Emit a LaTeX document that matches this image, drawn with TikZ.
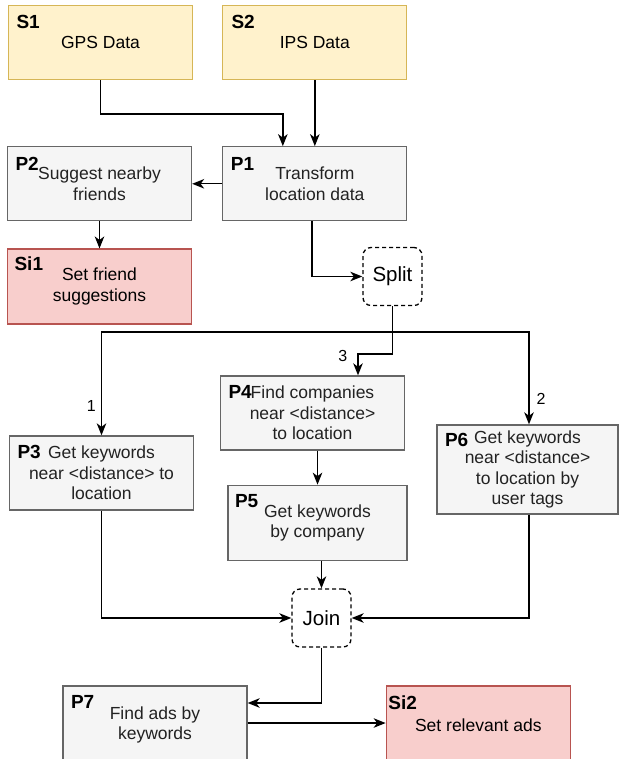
\documentclass[tikz,border=0pt]{standalone}
\usepackage{fontspec}
\setmainfont{Liberation Sans}
\usetikzlibrary{arrows.meta,positioning}

\definecolor{srcfill}{HTML}{FFF2CC}
\definecolor{srcline}{HTML}{D6B656}
\definecolor{procfill}{HTML}{F5F5F5}
\definecolor{procline}{HTML}{666666}
\definecolor{proctext}{HTML}{222222}
\definecolor{sinkfill}{HTML}{F8CECC}
\definecolor{sinkline}{HTML}{B85450}

\begin{document}
\begin{tikzpicture}[x=1pt,y=-1pt,->,>={Stealth[length=12pt,width=9.5pt,inset=3.5pt]},
    line width=1.4pt]
\tikzstyle{box}=[rectangle, draw, line width=1.3pt, minimum width=184pt, minimum height=74pt,
    inner sep=2pt, align=center, font=\fontsize{17.5}{20.5}\selectfont]
\tikzstyle{source}=[box, fill=srcfill, draw=srcline]
\tikzstyle{proc}=[box, fill=procfill, draw=procline, text=proctext]
\tikzstyle{sink}=[box, fill=sinkfill, draw=sinkline]
\tikzstyle{gate}=[rectangle, rounded corners=8pt, draw=black, line width=1.3pt,
    dash pattern=on 4pt off 3pt, minimum width=59pt, minimum height=58pt,
    font=\fontsize{20.5}{24}\selectfont]
\tikzstyle{tag}=[anchor=base west, inner sep=0pt, font=\fontsize{19}{22}\selectfont\bfseries]
\tikzstyle{num}=[inner sep=0pt, font=\fontsize{16}{19}\selectfont]

\useasboundingbox (0,0) rectangle (618,759);

\node[source]          (s1) at (100.5,42.5)          {GPS Data};
\node[source]          (s2) [right=29pt of s1]      {IPS Data};

\node[proc]            (p1) [below=66pt of s2]      {Transform\\location data};
\node[proc]            (p2) [left=30pt of p1]       {Suggest nearby\\friends};
\node[sink, minimum height=75pt] (si1) [below=27pt of p2] {Set friend\\suggestions};

\node[gate]         (split) at (392.5,276.5)        {Split};

\node[proc]            (p3) at (101.5,473)   {Get keywords\\near \textless distance\textgreater{} to\\location};
\node[proc]            (p4) at (312.5,413)   {Find companies\\near \textless distance\textgreater\\to location};
\node[proc, minimum width=179pt, minimum height=75pt]
                       (p5) [below=34pt of p4, xshift=5pt] {Get keywords\\by company};
\node[proc, minimum width=181pt, minimum height=89pt]
                       (p6) at (527.5,469.5) {Get keywords\\near \textless distance\textgreater\\to location by\\user tags};

\node[gate]          (join) at (321.5,618)          {Join};

% bottom row runs off the page
\node[proc, minimum height=78pt] (p7) at (155,725) {Find ads by\\keywords};
\node[sink, minimum height=78pt] (si2) [right=138pt of p7] {Set relevant ads};

% ids in the corners
\node[tag] (s1t)  at ([shift={(8,24)}]s1.north west)   {S1};
\node[tag] (s2t)  at ([shift={(8.7,24)}]s2.north west) {S2};
\node[tag] (p1t)  at ([shift={(8,24)}]p1.north west)   {P1};
\node[tag] (p2t)  at ([shift={(8,24)}]p2.north west)   {P2};
\node[tag] (si1t) at ([shift={(7,22)}]si1.north west)  {Si1};
\node[tag] (p3t)  at ([shift={(8,23)}]p3.north west)   {P3};
\node[tag] (p4t)  at ([shift={(8,23)}]p4.north west)   {P4};
\node[tag] (p5t)  at ([shift={(7,23)}]p5.north west)   {P5};
\node[tag] (p6t)  at ([shift={(8,22)}]p6.north west)   {P6};
\node[tag] (p7t)  at ([shift={(8,23)}]p7.north west)   {P7};
\node[tag] (si2t) at ([shift={(2,24)}]si2.north west)  {Si2};

\coordinate (fork) at ([yshift=-26pt]split.south);

\draw   (s1.south) -- ++(0,34) -| ([xshift=-32pt]p1.north);
\draw   (s2.south) -- (p1.north);
\draw   (p1.west) -- (p2.east);
\draw   (p2.south) -- (si1.north);
\draw   ([xshift=-3pt]p1.south) |- (split.west);

\draw[-] (split.south) -- (fork);
\draw   (fork) -| node[num, left=5pt, pos=0.86]  (n1) {1} (p3.north);
\draw   (fork) -| node[num, right=7pt, pos=0.86] (n2) {2} ([xshift=1.5pt]p6.north);
\draw   (fork) -- ++(0,22) -| node[num, left=10pt, pos=0.5, yshift=-2pt] (n3) {3}
        ([xshift=45.5pt]p4.north);

\draw   (p5.north |- p4.south) -- (p5.north);
\draw   (p3.south) |- (join.west);
\draw   ([xshift=1.5pt]p6.south) |- (join.east);
\draw   (join.north |- p5.south) -- (join.north);
\draw   (join.south) |- ([yshift=22pt]p7.east);
\draw   ([yshift=2pt]p7.east) -- ([yshift=2pt]si2.west);

\end{tikzpicture}
\end{document}
